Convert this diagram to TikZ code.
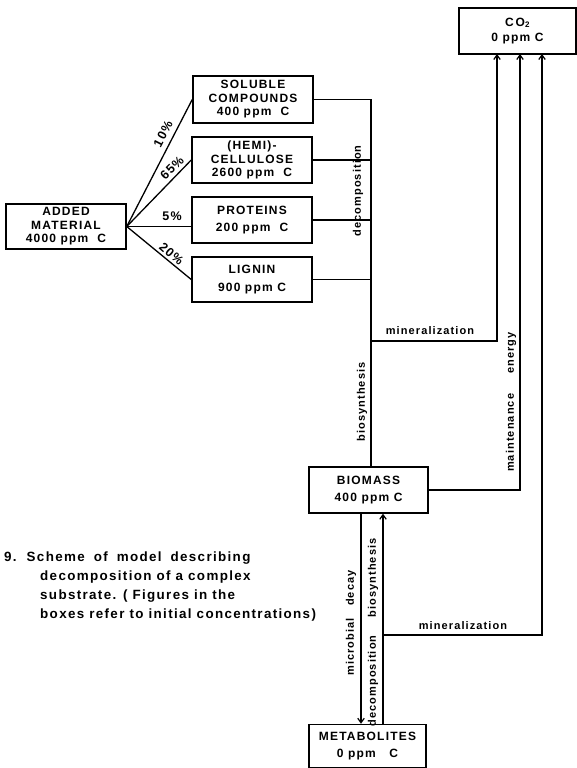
\documentclass[tikz,border=0pt]{standalone}
\usepackage{fontspec}
\setmainfont{Liberation Sans}[LetterSpace=10]
\usetikzlibrary{arrows.meta}
\begin{document}
\begin{tikzpicture}[x=1pt,y=-1pt,
  box/.style={draw, line width=1.5pt, inner sep=0pt, align=center,
    font=\bfseries\fontsize{12}{13.5}\selectfont},
  conn/.style={line width=1.3pt},
  arr/.style={conn, -{Straight Barb[length=4.5pt,width=6.5pt,line width=1.2pt]}},
  lab/.style={font=\bfseries\fontsize{11}{13}\selectfont, inner sep=1pt},
  pct/.style={font=\bfseries\fontsize{12.5}{14}\selectfont, inner sep=0pt},
  captext/.style={font=\bfseries\fontsize{13.4}{16}\selectfont, inner sep=0pt, anchor=base west},
]
\useasboundingbox (0,0) rectangle (576,768);

% boxes
\node[box, minimum width=120pt, minimum height=45pt] (add) at (66,226.5) {ADDED\\MATERIAL\\4000 ppm\ \ C};
\node[box, minimum width=120pt, minimum height=47pt] (sol) at (253,99.5) {SOLUBLE\\COMPOUNDS\\400 ppm\ \ C};
\node[box, minimum width=120pt, minimum height=46pt] (hemi) at (252,160) {(HEMI)-\\CELLULOSE\\2600 ppm\ \ C};
\node[box, minimum width=120pt, minimum height=46pt] (prot) at (252,220) {PROTEINS\\[4pt]200 ppm\ \ C};
\node[box, minimum width=120pt, minimum height=45pt] (lig) at (252,279.5) {LIGNIN\\[5pt]900 ppm C};
\node[box, minimum width=117pt, minimum height=46pt] (co2) at (517.5,31) {C\,O\textsubscript{2}\\[2pt]0 ppm C};
\node[box, minimum width=119pt, minimum height=46pt] (bio) at (368.5,490) {BIOMASS\\[4pt]400 ppm C};
\node[box, minimum width=117pt, minimum height=43pt] (met) at (367.5,746) {METABOLITES\\[3pt]0 ppm\ \ \ C};

% fan from added material
\draw[conn] (add.east) -- (sol.west);
\draw[conn] (add.east) -- (hemi.west);
\draw[conn] (add.east) -- (add.east -| prot.west);
\draw[conn] (add.east) -- (lig.west);
\node[pct, rotate=63] (p10) at (163,134) {10\%};
\node[pct, rotate=45] (p65) at (172,168) {65\%};
\node[pct] (p5) at (172,216) {5\%};
\node[pct, rotate=-41] (p20) at (171.5,254) {20\%};

% decomposition collector
\coordinate (dx) at (371,0);
\draw[conn] (sol.east) -- (sol.east -| dx) -- (bio.north -| dx);
\draw[conn] (hemi.east) -- (hemi.east -| dx);
\draw[conn] (prot.east) -- (prot.east -| dx);
\draw[conn] (lig.east) -- (lig.east -| dx);
\node[lab, rotate=90] (ldec1) at (358,191) {decomposition};
\node[lab, rotate=90] (lbio1) at (362,402) {biosynthesis};

% to CO2
\coordinate (m1) at (371,341);
\coordinate (c1) at (497,54);
\coordinate (c2) at (520,54);
\coordinate (c3) at (542,54);
\draw[arr] (m1) -| (c1);
\node[lab] (lmin1) at (430,331) {mineralization};
\draw[arr] (bio.east) -| (c2);
\node[lab, rotate=90] (lmaint) at (511,402) {maintenance\hspace{20pt}energy};
\coordinate (m2) at (383,635);
\draw[arr] (m2) -| (c3);
\node[lab] (lmin2) at (463,626) {mineralization};

% biomass <-> metabolites
\coordinate (mdx) at (361,0);
\coordinate (bsx) at (383,0);
\draw[arr] (bio.south -| mdx) -- (met.north -| mdx);
\draw[arr] (met.north -| bsx) -- (bio.south -| bsx);
\node[lab, rotate=90] (lmd) at (351,623) {microbial\hspace{12pt}decay};
\node[lab, rotate=90] (lbio2) at (373,578) {biosynthesis};
\node[lab, rotate=90] (ldec2) at (373,681) {decomposition};

% caption
\node[captext] (cap1) at (4,561) {9.\hspace{10pt}Scheme\hspace{9pt}of\hspace{9pt}model\hspace{9pt}describing};
\node[captext] (cap2) at (40,580) {decomposition of a complex};
\node[captext] (cap3) at (40,599) {substrate. ( Figures in the};
\node[captext] (cap4) at (40,618) {boxes refer to initial concentrations)};
\end{tikzpicture}
\end{document}
